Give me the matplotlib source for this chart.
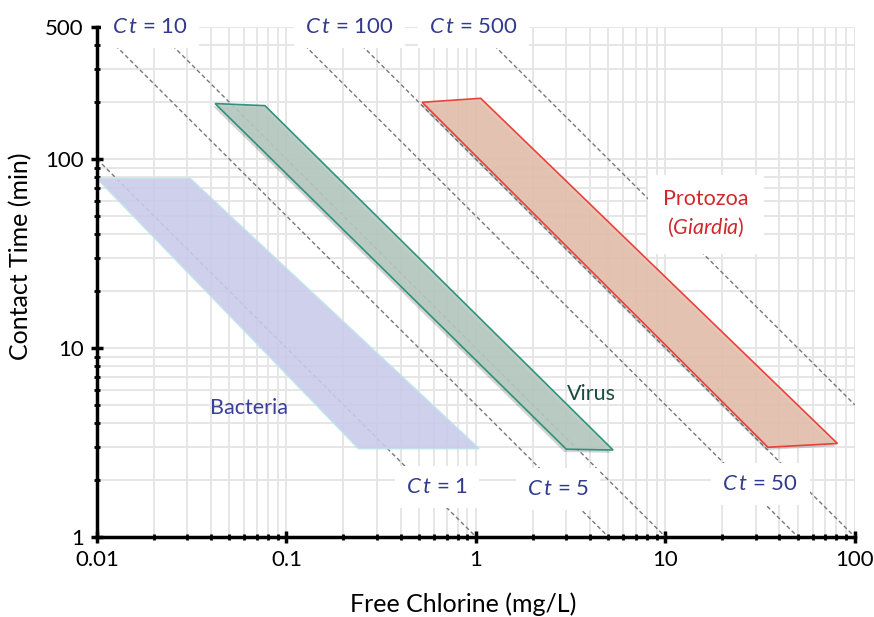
import matplotlib
matplotlib.use("Agg")
import matplotlib.pyplot as plt
import matplotlib.patheffects as pe
from matplotlib.ticker import LogLocator, NullFormatter, FixedLocator
import numpy as np

plt.rcParams['font.family'] = ['Lato', 'DejaVu Sans']
plt.rcParams['mathtext.fontset'] = 'custom'
plt.rcParams['mathtext.it'] = 'Lato:italic'
plt.rcParams['mathtext.rm'] = 'Lato'

# Ct reference lines (mg/L * min)
ct_values = [1, 5, 10, 50, 100, 500]
t_top = 400.0   # dashed lines stop here

# label positions for Ct lines: (Ct, x, y)
ct_labels = [(10, 0.0120, 500), (100, 0.125, 500), (500, 0.565, 500),
             (1, 0.427, 1.84), (5, 1.86, 1.79), (50, 20.0, 1.91)]

# inactivation zones: (Free chlorine mg/L, contact time min)
bact_x = [0.01, 0.031, 1.04, 0.24]
bact_y = [79, 79, 2.93, 2.93]
virus_x = [0.042, 0.077, 5.3, 3.0]
virus_y = [197, 192, 2.88, 2.91]
proto_x = [0.52, 1.06, 81.0, 34.8]
proto_y = [200, 210, 3.12, 2.98]

fig = plt.figure(figsize=(8.74, 6.17), dpi=100)
ax = fig.add_axes([0.111, 0.13, 0.867, 0.826])
ax.set_xscale('log')
ax.set_yscale('log')
ax.set_xlim(0.01, 100)
ax.set_ylim(1, 500)

# grid
ax.grid(True, which='both', color='#e6e6e6', linewidth=1.4, zorder=0)
ax.set_axisbelow(True)

# Ct dashed lines
for ct in ct_values:
    x0 = max(0.01, ct / t_top)
    x1 = min(100, ct / 1.0)
    xs = np.logspace(np.log10(x0), np.log10(x1), 50)
    ax.plot(xs, ct / xs, color='#787878', lw=1.0, ls=(0, (3, 2)), zorder=2)

shadow = [pe.SimplePatchShadow(offset=(-1.5, -2), shadow_rgbFace='#555555', alpha=0.25), pe.Normal()]
ax.fill(bact_x, bact_y, facecolor='#cacbea', edgecolor='#bfe2ea', lw=1.2, alpha=0.9, zorder=3)
ax.fill(virus_x, virus_y, facecolor='#b5c9c0', edgecolor='#1e8c72', lw=1.2, alpha=0.9, zorder=3,
        path_effects=shadow)
ax.fill(proto_x, proto_y, facecolor='#e6c0ae', edgecolor='#e8322b', lw=1.2, alpha=0.9, zorder=3,
        path_effects=shadow)

navy = '#323a8c'
box = dict(boxstyle='square,pad=0.5', facecolor='white', edgecolor='none')
for ct, lx, ly in ct_labels:
    ax.text(lx, ly, r'$C\,t$ = %d' % ct, color=navy, fontsize=16, ha='left', va='center',
            bbox=box, zorder=5)

ax.text(0.0635, 4.82, 'Bacteria', color='#3a3f98', fontsize=15.5, ha='center', va='center', zorder=4)
ax.text(4.05, 5.71, 'Virus', color='#1b4d3e', fontsize=15.5, ha='center', va='center', zorder=4)
ax.text(16.4, 51.3, 'Protozoa\n(' + r'$Giardia$' + ')', color='#d1282e', fontsize=15.5,
        ha='center', va='center', linespacing=1.4, zorder=5,
        bbox=dict(boxstyle='square,pad=0.7', facecolor='white', edgecolor='none'))

# axes styling
for s in ['top', 'right']:
    ax.spines[s].set_visible(False)
for s in ['left', 'bottom']:
    ax.spines[s].set_linewidth(2.5)
    ax.spines[s].set_zorder(6)

ax.xaxis.set_major_locator(FixedLocator([0.01, 0.1, 1, 10, 100]))
ax.set_xticklabels(['0.01', '0.1', '1', '10', '100'])
ax.xaxis.set_minor_locator(LogLocator(base=10, subs=np.arange(2, 10)))
ax.xaxis.set_minor_formatter(NullFormatter())
ax.yaxis.set_major_locator(FixedLocator([1, 10, 100, 500]))
ax.set_yticklabels(['1', '10', '100', '500'])
ax.yaxis.set_minor_locator(LogLocator(base=10, subs=np.arange(2, 10)))
ax.yaxis.set_minor_formatter(NullFormatter())
ax.tick_params(which='major', direction='inout', length=9, width=2.5, labelsize=16, pad=5)
ax.tick_params(which='minor', direction='inout', length=5, width=2)

ax.set_xlabel('Free Chlorine (mg/L)', fontsize=18)
ax.set_ylabel('Contact Time (min)', fontsize=18)
ax.xaxis.set_label_coords(0.483, -0.11)
ax.yaxis.set_label_coords(-0.085, 0.55)

fig.savefig('out.png', dpi=100)
